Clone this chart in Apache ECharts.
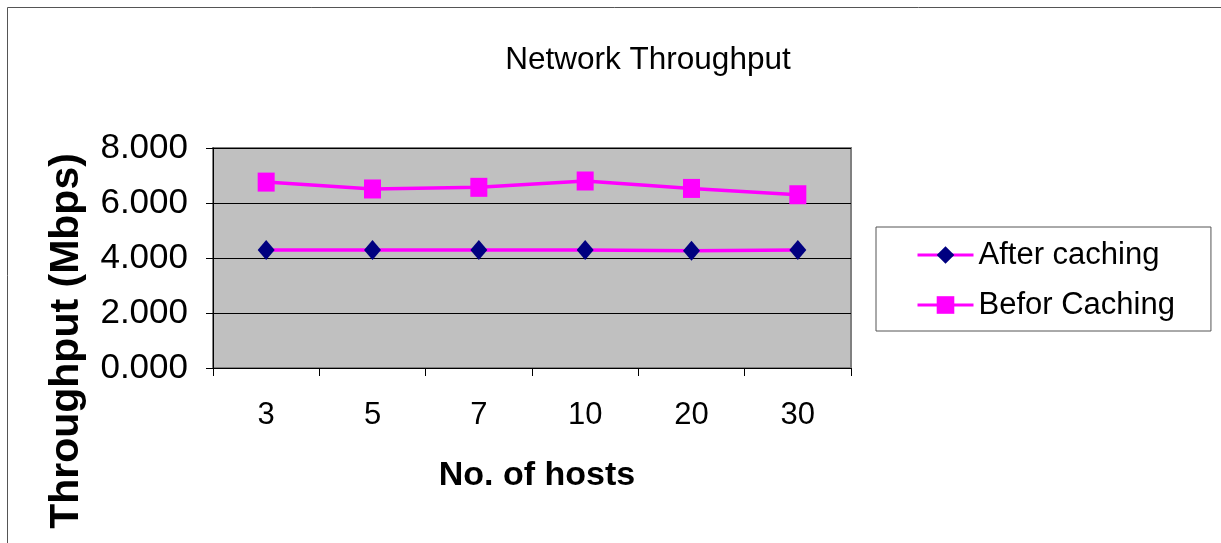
<!DOCTYPE html>
<html>
<head>
<meta charset="utf-8">
<title>Network Throughput</title>
<script src="https://cdn.jsdelivr.net/npm/echarts@6/dist/echarts.min.js"></script>
<style>
  html, body { margin: 0; padding: 0; background: #ffffff; }
  #chart { width: 1221px; height: 543px; }
</style>
</head>
<body>
<div id="chart"></div>
<script>
// Host counts on the x axis
const hostCounts = ['3', '5', '7', '10', '20', '30'];
// Throughput in Mbps
const afterCaching = [4.29, 4.29, 4.29, 4.29, 4.26, 4.29];
const beforCaching = [6.76, 6.51, 6.57, 6.80, 6.53, 6.30];
// Value axis ticks
const yTicks = [0, 2, 4, 6, 8];

const FONT = "'Liberation Sans', Arial, sans-serif";
const chart = echarts.init(document.getElementById('chart'), null, { renderer: 'canvas' });

chart.setOption({
  backgroundColor: '#ffffff',
  animation: false,
  textStyle: { fontFamily: FONT, color: '#000' },
  title: {
    text: 'Network Throughput',
    left: 648,
    textAlign: 'center',
    top: 44,
    padding: 0,
    textStyle: { fontFamily: FONT, fontSize: 31.5, fontWeight: 'normal', color: '#000' }
  },
  legend: {
    orient: 'vertical',
    left: 876,
    top: 227,
    padding: [11, 36, 9, 40],
    itemGap: 16,
    itemWidth: 56,
    itemHeight: 22,
    borderColor: '#555',
    borderWidth: 1,
    backgroundColor: '#fff',
    lineStyle: { width: 3 },
    textStyle: { fontFamily: FONT, fontSize: 31, lineHeight: 34, color: '#000', padding: [0, 0, 0, 0] },
    data: ['After caching', 'Befor Caching']
  },
  grid: {
    left: 213,
    top: 148,
    right: 370,
    bottom: 175,
    show: true,
    backgroundColor: '#c0c0c0',
    borderColor: '#808080',
    borderWidth: 2
  },
  xAxis: {
    type: 'category',
    data: hostCounts,
    boundaryGap: true,
    name: 'No. of hosts',
    nameLocation: 'middle',
    nameGap: 91,
    nameTextStyle: { fontFamily: FONT, fontSize: 34, fontWeight: 'bold', color: '#000', padding: [0, 0, 0, 10] },
    axisLine: { show: true, lineStyle: { color: '#000', width: 1 } },
    axisTick: { show: true, alignWithLabel: false, length: 8, lineStyle: { color: '#000' } },
    axisLabel: { fontFamily: FONT, fontSize: 31, color: '#000', margin: 32 },
    splitLine: { show: false }
  },
  yAxis: {
    type: 'value',
    min: yTicks[0],
    max: yTicks[yTicks.length - 1],
    interval: yTicks[1] - yTicks[0],
    axisLine: { show: true, lineStyle: { color: '#000', width: 1 } },
    axisTick: { show: true, length: 7, lineStyle: { color: '#000' } },
    axisLabel: {
      fontFamily: FONT, fontSize: 35, color: '#000', margin: 25,
      formatter: v => v.toFixed(3)
    },
    splitLine: { show: true, lineStyle: { color: '#000', width: 1 } }
  },
  graphic: [
    {
      type: 'rect',
      silent: true,
      shape: { x: 7.5, y: 7.5, width: 1400, height: 1000 },
      style: { fill: 'none', stroke: '#555', lineWidth: 1 }
    },
    {
      type: 'text',
      silent: true,
      x: 67,
      y: 341,
      rotation: Math.PI / 2,
      style: {
        text: 'Throughput (Mbps)',
        fontFamily: FONT,
        fontSize: 41,
        fontWeight: 'bold',
        fill: '#000',
        align: 'center',
        verticalAlign: 'middle'
      }
    }
  ],
  series: [
    {
      name: 'After caching',
      type: 'line',
      data: afterCaching,
      symbol: 'diamond',
      symbolSize: [17, 20],
      showAllSymbol: true,
      itemStyle: { color: '#000080' },
      lineStyle: { color: '#ff00ff', width: 3.5 },
      z: 3
    },
    {
      name: 'Befor Caching',
      type: 'line',
      data: beforCaching,
      symbol: 'rect',
      symbolSize: [17, 19],
      showAllSymbol: true,
      itemStyle: { color: '#ff00ff' },
      lineStyle: { color: '#ff00ff', width: 3.5 },
      z: 3
    }
  ]
});
</script>
</body>
</html>
